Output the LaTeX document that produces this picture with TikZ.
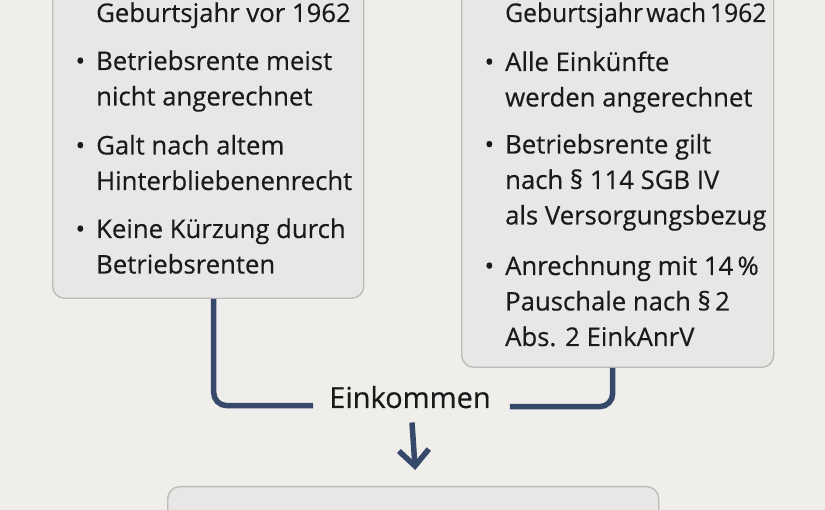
\documentclass[tikz,border=0pt]{standalone}
\usepackage{fontspec}
\usepackage{graphicx}
\setmainfont[FakeBold=0.4]{Open Sans}
\usetikzlibrary{arrows.meta}
\definecolor{bg}{HTML}{F0EEEA}
\definecolor{boxfill}{HTML}{E8E7E5}
\definecolor{boxline}{HTML}{BDBCBA}
\definecolor{navy}{HTML}{36496B}
\definecolor{ink}{HTML}{1A1A1A}
\newcommand{\itm}[1]{\parbox[t]{300pt}{\baselineskip=35.5pt #1}}
\newcommand{\bul}{\leavevmode\llap{\textbullet\hspace{11pt}}}
\begin{document}
\begin{tikzpicture}[x=1pt,y=1pt,
  box/.style={draw=boxline, line width=1.4pt, fill=boxfill, rounded corners=12pt, inner sep=0pt},
  item/.style={inner sep=0pt, anchor=base west, text=ink, font=\fontsize{25.7}{35.5}\selectfont},
  conn/.style={draw=navy, line width=5.5pt, rounded corners=13pt},
]
\useasboundingbox (0,0) rectangle (825,-510);
\clip (0,0) rectangle (825,-510);
\fill[bg] (0,0) rectangle (825,-510);
% boxes
\node[box, minimum width=311pt, minimum height=349pt, anchor=south west] (L) at (52,-299) {};
\node[box, minimum width=312pt, minimum height=418pt, anchor=south west] (R) at (461,-368) {};
\node[box, minimum width=491pt, minimum height=80pt, anchor=north west] (B) at (167,-486) {};
% left texts
\node[item] (L0) at (96,-22) {\itm{Geburtsjahr vor 1962}};
\node[item] (L1) at (96,-70) {\itm{\bul Betriebsrente meist\\nicht angerechnet}};
\node[item] (L2) at (96,-154.5) {\itm{\bul Galt nach altem\\Hinterbliebenenrecht}};
\node[item] (L3) at (96,-238) {\itm{\bul Keine Kürzung durch\\Betriebsrenten}};
% right texts
\node[item] (R0) at (505,-22) {\scalebox{0.96}[1]{Geburtsjahr\hspace{3.5pt}wach\hspace{4pt}1962}};
\node[item] (R1) at (505,-71) {\itm{\bul Alle Einkünfte\\werden angerechnet}};
\node[item] (R2) at (505,-153.5) {\itm{\bul Betriebsrente gilt\\nach § 114 SGB IV\\als Versorgungsbezug}};
\node[item] (R3) at (505,-275) {\itm{\bul Anrechnung mit 14\,\%\\Pauschale nach §\,2\\Abs. 2 EinkAnrV}};
% Einkommen
\node[inner sep=0pt, anchor=base, text=ink, font=\fontsize{29}{29}\selectfont] (E) at (410,-408) {Einkommen};
% connectors
\draw[conn] ([xshift=5.5pt]L.south) |- ([xshift=-16pt,yshift=-8.5pt]E.west);
\draw[conn] ([xshift=-5pt]R.south) |- ([xshift=19pt,yshift=-9.5pt]E.east);
\draw[conn, -{Straight Barb[length=16pt,width=30pt]}] ([xshift=2pt,yshift=-14pt]E.south) -- ([xshift=2pt,yshift=16pt]B.north);
\end{tikzpicture}
\end{document}
